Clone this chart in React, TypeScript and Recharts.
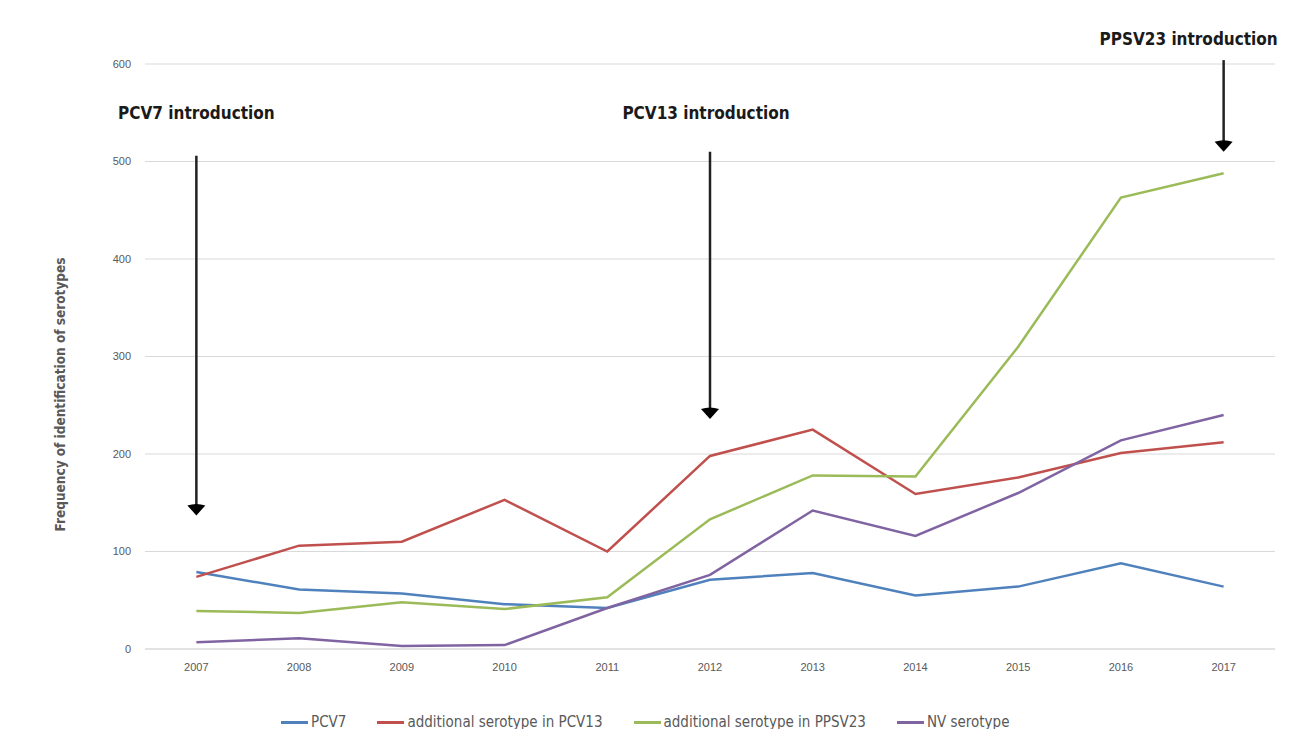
import React from "react";
import {
  LineChart,
  Line,
  XAxis,
  YAxis,
  CartesianGrid,
  Legend,
  ReferenceLine,
  ReferenceDot,
} from "recharts";

const years = ["2007", "2008", "2009", "2010", "2011", "2012", "2013", "2014", "2015", "2016", "2017"];
const pcv7 = [79, 61, 57, 46, 42, 71, 78, 55, 64, 88, 64];
const pcv13Extra = [74, 106, 110, 153, 100, 198, 225, 159, 176, 201, 212];
const ppsv23Extra = [39, 37, 48, 41, 53, 133, 178, 177, 310, 463, 488];
const nvSerotype = [7, 11, 3, 4, 42, 76, 142, 116, 160, 214, 240];
const yTicks = [0, 100, 200, 300, 400, 500, 600];

const series = [
  { key: "pcv7", name: "PCV7", color: "#4F81BD", values: pcv7 },
  { key: "pcv13", name: "additional serotype in PCV13", color: "#C0504D", values: pcv13Extra },
  { key: "ppsv23", name: "additional serotype in PPSV23", color: "#9BBB59", values: ppsv23Extra },
  { key: "nv", name: "NV serotype", color: "#8064A2", values: nvSerotype },
];

// vaccine introductions: arrow from -> to (values on y scale), title position
const arrows = [
  { year: "2007", from: 506, to: 137, title: "PCV7 introduction", titleY: 550, dx: 0 },
  { year: "2012", from: 510, to: 236, title: "PCV13 introduction", titleY: 550, dx: -4 },
  { year: "2017", from: 604, to: 510, title: "PPSV23 introduction", titleY: 626, dx: -35 },
];

const data = years.map((year, i) => {
  const row: Record<string, string | number> = { year };
  series.forEach((s) => {
    row[s.key] = s.values[i];
  });
  return row;
});

const LABEL_FONT = '"Liberation Sans Narrow", "DejaVu Sans Condensed", "Liberation Sans", sans-serif';
const TICK_COLOR = "#595959";
const GRID = "#d9d9d9";

const ArrowShape = (props: any) => {
  const { x1, y1, x2, y2 } = props;
  if (x1 == null) return null;
  return (
    <g>
      <line x1={x1} y1={y1} x2={x2} y2={y2 - 8} stroke="#222" strokeWidth={2.5} />
      <path
        d={`M${x2 - 9},${y2 - 10} Q${x2},${y2 - 13} ${x2 + 9},${y2 - 10} L${x2},${y2} Z`}
        fill="#000"
      />
    </g>
  );
};

const TitleLabel = (text: string, dx: number) => (props: any) => {
  const vb = props.viewBox || {};
  const cx = (vb.cx ?? vb.x ?? 0) + dx;
  const cy = vb.cy ?? vb.y ?? 0;
  return (
    <text
      x={cx}
      y={cy}
      textAnchor="middle"
      dominantBaseline="central"
      fontFamily={LABEL_FONT}
      fontWeight="bold"
      fontSize={17}
      fill="#1a1a1a"
    >
      {text}
    </text>
  );
};

const LegendContent = () => (
  <div
    style={{
      display: "flex",
      justifyContent: "flex-start",
      alignItems: "center",
      gap: 31,
      fontFamily: LABEL_FONT,
      fontSize: 15,
      color: TICK_COLOR,
      paddingLeft: 176,
    }}
  >
    {series.map((s) => (
      <div key={s.key} style={{ display: "flex", alignItems: "center" }}>
        <span
          style={{ display: "inline-block", width: 27, height: 3, background: s.color, marginRight: 3 }}
        />
        <span>{s.name}</span>
      </div>
    ))}
  </div>
);

const YTitle = (props: any) => {
  const vb = props.viewBox || {};
  const x = 60;
  const y = (vb.y ?? 0) + (vb.height ?? 0) / 2 + 38;
  return (
    <text
      x={x}
      y={y}
      transform={`rotate(-90, ${x}, ${y})`}
      textAnchor="middle"
      dominantBaseline="central"
      fontFamily={LABEL_FONT}
      fontWeight="bold"
      fontSize={13.5}
      fill={TICK_COLOR}
    >
      Frequency of identification of serotypes
    </text>
  );
};

export default function App() {
  return (
    <div
      style={{
        position: "relative",
        margin: -8,
        width: 1292,
        height: 737,
        overflow: "hidden",
        background: "#fff",
      }}
    >
      <div
        style={{
          position: "absolute",
          left: 6,
          top: 7,
          width: 1282,
          height: 760,
          border: `1px solid ${GRID}`,
        }}
      />
      <div style={{ position: "absolute", left: 0, top: 0 }}>
        <LineChart
          width={1292}
          height={737}
          data={data}
          margin={{ top: 64, right: 17, left: 105, bottom: 40 }}
        >
          <CartesianGrid horizontal vertical={false} stroke={GRID} />
          <XAxis
            dataKey="year"
            scale="band"
            height={30}
            axisLine={{ stroke: GRID }}
            tickLine={false}
            tickMargin={8}
            tick={{ fontSize: 11, fill: TICK_COLOR, fontFamily: "Liberation Sans" }}
          />
          <YAxis
            width={40}
            domain={[0, 600]}
            ticks={yTicks}
            axisLine={false}
            tickLine={false}
            tickSize={0}
            tickMargin={14}
            tick={{ fontSize: 11, fill: TICK_COLOR, fontFamily: "Liberation Sans" }}
            label={<YTitle />}
          />
          <Legend
            verticalAlign="bottom"
            content={<LegendContent />}
            wrapperStyle={{ bottom: 6, height: "auto" }}
          />
          {series.map((s) => (
            <Line
              key={s.key}
              type="linear"
              dataKey={s.key}
              name={s.name}
              stroke={s.color}
              strokeWidth={2.5}
              dot={false}
              activeDot={false}
              isAnimationActive={false}
            />
          ))}
          {arrows.map((a) => (
            <ReferenceLine
              key={`arrow-${a.year}`}
              segment={[
                { x: a.year, y: a.from },
                { x: a.year, y: a.to },
              ]}
              ifOverflow="visible"
              shape={<ArrowShape />}
            />
          ))}
          {arrows.map((a) => (
            <ReferenceDot
              key={`title-${a.year}`}
              x={a.year}
              y={a.titleY}
              r={0}
              ifOverflow="visible"
              label={TitleLabel(a.title, a.dx)}
            />
          ))}
        </LineChart>
      </div>
    </div>
  );
}
